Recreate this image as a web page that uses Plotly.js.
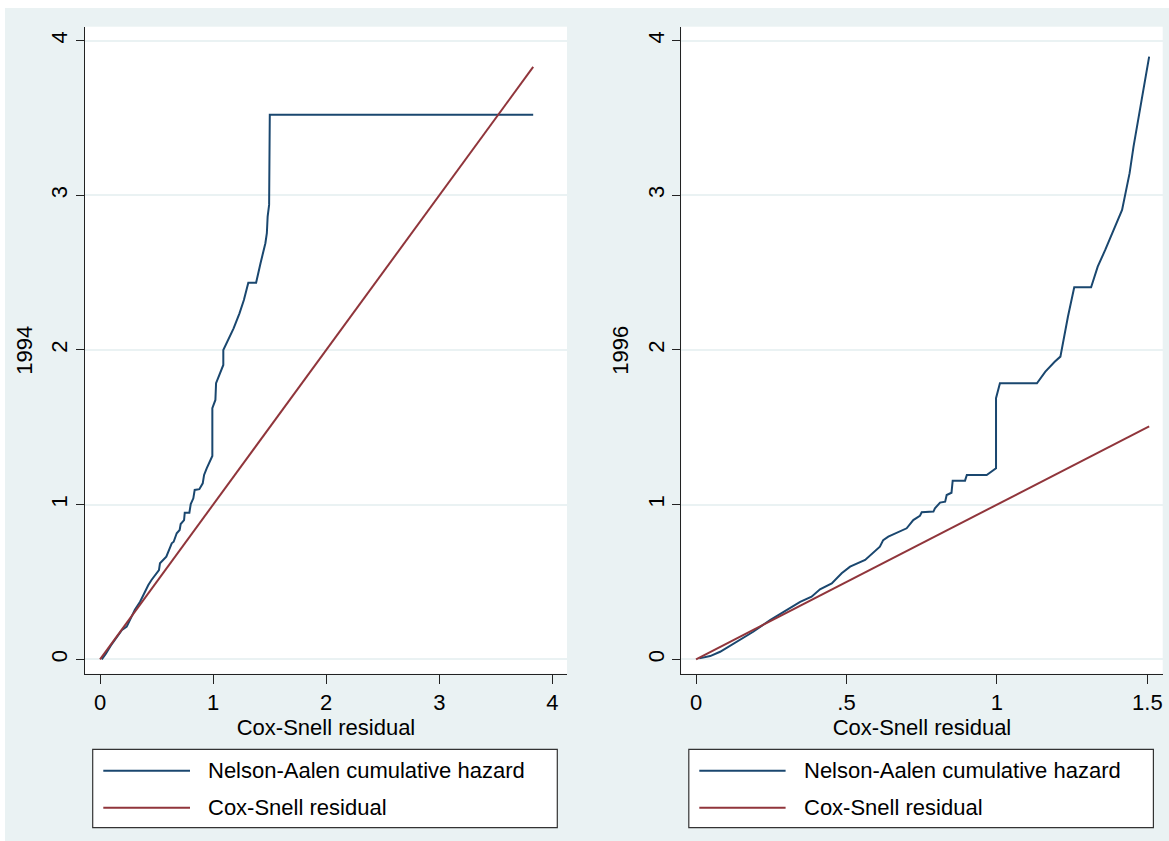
<!DOCTYPE html>
<html>
<head>
<meta charset="utf-8">
<script src="https://cdn.plot.ly/plotly-3.0.1.min.js"></script>
<style>html,body{margin:0;padding:0;background:#fff;}#chart{width:1169px;height:841px;}</style>
</head>
<body>
<div id="chart"></div>
<script>
// ---- data ----
const panelTitles = ['1994', '1996'];
const xAxisTitle = 'Cox-Snell residual';
const legendLabels = ['Nelson-Aalen cumulative hazard', 'Cox-Snell residual'];

// 1994: Nelson-Aalen cumulative hazard vs Cox-Snell residual
const na1994X = [0.015, 0.05, 0.096, 0.194, 0.236, 0.308, 0.354, 0.39, 0.427, 0.455, 0.521, 0.53, 0.586, 0.634, 0.651, 0.678, 0.704, 0.713, 0.743, 0.749, 0.790, 0.802, 0.825, 0.837, 0.878, 0.908, 0.920, 0.943, 0.979, 0.993, 0.993, 1.02, 1.026, 1.055, 1.090, 1.090, 1.181, 1.233, 1.272, 1.311, 1.380, 1.419, 1.462, 1.475, 1.482, 1.495, 1.501, 3.83];
const na1994Y = [0.0, 0.035, 0.09, 0.19, 0.211, 0.32, 0.372, 0.427, 0.48, 0.513, 0.577, 0.621, 0.664, 0.75, 0.76, 0.815, 0.836, 0.875, 0.90, 0.948, 0.948, 1.004, 1.041, 1.095, 1.10, 1.138, 1.192, 1.235, 1.289, 1.315, 1.623, 1.677, 1.785, 1.838, 1.903, 2.0, 2.14, 2.237, 2.323, 2.435, 2.435, 2.561, 2.69, 2.755, 2.862, 2.938, 3.52, 3.52];
const cs1994 = [0, 3.83];

// 1996
const na1996X = [0.011, 0.047, 0.080, 0.135, 0.190, 0.246, 0.301, 0.346, 0.384, 0.412, 0.451, 0.484, 0.512, 0.545, 0.562, 0.611, 0.622, 0.639, 0.672, 0.700, 0.722, 0.744, 0.750, 0.789, 0.794, 0.811, 0.828, 0.833, 0.849, 0.853, 0.894, 0.900, 0.966, 0.997, 0.997, 1.010, 1.133, 1.161, 1.192, 1.211, 1.236, 1.257, 1.313, 1.335, 1.360, 1.398, 1.416, 1.441, 1.454, 1.481, 1.506];
const na1996Y = [0.006, 0.021, 0.049, 0.114, 0.178, 0.254, 0.319, 0.372, 0.405, 0.453, 0.491, 0.556, 0.599, 0.631, 0.642, 0.728, 0.771, 0.793, 0.825, 0.847, 0.90, 0.927, 0.951, 0.955, 0.976, 1.013, 1.019, 1.062, 1.077, 1.155, 1.155, 1.192, 1.192, 1.235, 1.688, 1.785, 1.785, 1.86, 1.924, 1.957, 2.215, 2.405, 2.405, 2.539, 2.647, 2.819, 2.905, 3.143, 3.315, 3.617, 3.897];
const cs1996 = [0, 1.506];

const yTicks = [0, 1, 2, 3, 4];
const yTickText = ['0', '1', '2', '3', '4'];
const xTicks1994 = [0, 1, 2, 3, 4];
const xTickText1994 = ['0', '1', '2', '3', '4'];
const xTicks1996 = [0, 0.5, 1, 1.5];
const xTickText1996 = ['0', '.5', '1', '1.5'];

// ---- styling ----
const W = 1169, H = 841;
const NAVY = '#1A476F', MAROON = '#90353B', BG = '#EAF2F3', AX = '#222222';
const FONT = 'Liberation Sans, Arial, sans-serif';
const FS = 22;
const px = v => v / W;
const py = v => 1 - v / H;

const traces = [
  {x: na1994X, y: na1994Y, xaxis: 'x', yaxis: 'y', mode: 'lines', name: legendLabels[0], line: {color: NAVY, width: 2}},
  {x: cs1994, y: cs1994, xaxis: 'x', yaxis: 'y', mode: 'lines', name: legendLabels[1], line: {color: MAROON, width: 2}},
  {x: na1996X, y: na1996Y, xaxis: 'x2', yaxis: 'y2', mode: 'lines', name: legendLabels[0], line: {color: NAVY, width: 2}},
  {x: cs1996, y: cs1996, xaxis: 'x2', yaxis: 'y2', mode: 'lines', name: legendLabels[1], line: {color: MAROON, width: 2}}
];

function xax(domain, range, tv, tt) {
  return {
    domain: domain, range: range, tickvals: tv, ticktext: tt,
    ticks: 'outside', ticklen: 9, tickcolor: AX, tickwidth: 1,
    showline: true, linecolor: AX, linewidth: 1, mirror: false,
    showgrid: false, zeroline: false, automargin: false, fixedrange: true,
    tickfont: {family: FONT, size: FS, color: '#000'},
    title: {text: xAxisTitle, font: {family: FONT, size: FS, color: '#000'}, standoff: 0}
  };
}
function yax(anchor, title) {
  return {
    anchor: anchor, domain: [py(673.7), py(26.7)], range: [-0.093, 4.09],
    tickvals: yTicks, ticktext: yTickText, tickangle: -90,
    ticks: 'outside', ticklen: 8, tickcolor: AX, tickwidth: 1,
    showline: true, linecolor: AX, linewidth: 1, mirror: false,
    showgrid: true, gridcolor: BG, gridwidth: 2, zeroline: false,
    automargin: false, fixedrange: true,
    tickfont: {family: FONT, size: FS, color: '#000'},
    title: {text: title, font: {family: FONT, size: FS, color: '#000'}, standoff: 8}
  };
}

const shapes = [
  {type: 'rect', xref: 'paper', yref: 'paper', x0: 0, x1: 1, y0: py(8), y1: 1, fillcolor: '#ffffff', line: {width: 0}, layer: 'below'},
  {type: 'rect', xref: 'paper', yref: 'paper', x0: 0, x1: px(5), y0: 0, y1: 1, fillcolor: '#ffffff', line: {width: 0}, layer: 'below'}
];
const annotations = [];
const legendBoxes = [
  {x0: 92.7, x1: 557.3, lx0: 103.3, lx1: 190, tx: 206},
  {x0: 688.8, x1: 1153.4, lx0: 699.3, lx1: 785.6, tx: 802}
];
const rowY = [770.7, 807.7];
const rowColors = [NAVY, MAROON];
legendBoxes.forEach(b => {
  shapes.push({type: 'rect', xref: 'paper', yref: 'paper', x0: px(b.x0), x1: px(b.x1), y0: py(827.7), y1: py(749.3),
    fillcolor: '#ffffff', line: {color: '#333333', width: 1.2}, layer: 'above'});
  legendLabels.forEach((lab, i) => {
    shapes.push({type: 'line', xref: 'paper', yref: 'paper', x0: px(b.lx0), x1: px(b.lx1), y0: py(rowY[i]), y1: py(rowY[i]),
      line: {color: rowColors[i], width: 2}, layer: 'above'});
    annotations.push({xref: 'paper', yref: 'paper', x: px(b.tx), y: py(rowY[i]), xanchor: 'left', yanchor: 'middle',
      text: lab, showarrow: false, font: {family: FONT, size: FS, color: '#000'}});
  });
});

const layout = {
  width: W, height: H,
  margin: {l: 0, r: 0, t: 0, b: 0, pad: 0},
  paper_bgcolor: BG, plot_bgcolor: '#ffffff',
  showlegend: false,
  font: {family: FONT, size: FS, color: '#000'},
  xaxis: Object.assign(xax([px(85), px(567)], [-0.133, 4.129], xTicks1994, xTickText1994), {anchor: 'y'}),
  yaxis: yax('x', panelTitles[0]),
  xaxis2: Object.assign(xax([px(681.3), px(1162.7)], [-0.049, 1.551], xTicks1996, xTickText1996), {anchor: 'y2'}),
  yaxis2: yax('x2', panelTitles[1]),
  shapes: shapes,
  annotations: annotations
};

Plotly.newPlot('chart', traces, layout, {displayModeBar: false, staticPlot: true});
</script>
</body>
</html>
